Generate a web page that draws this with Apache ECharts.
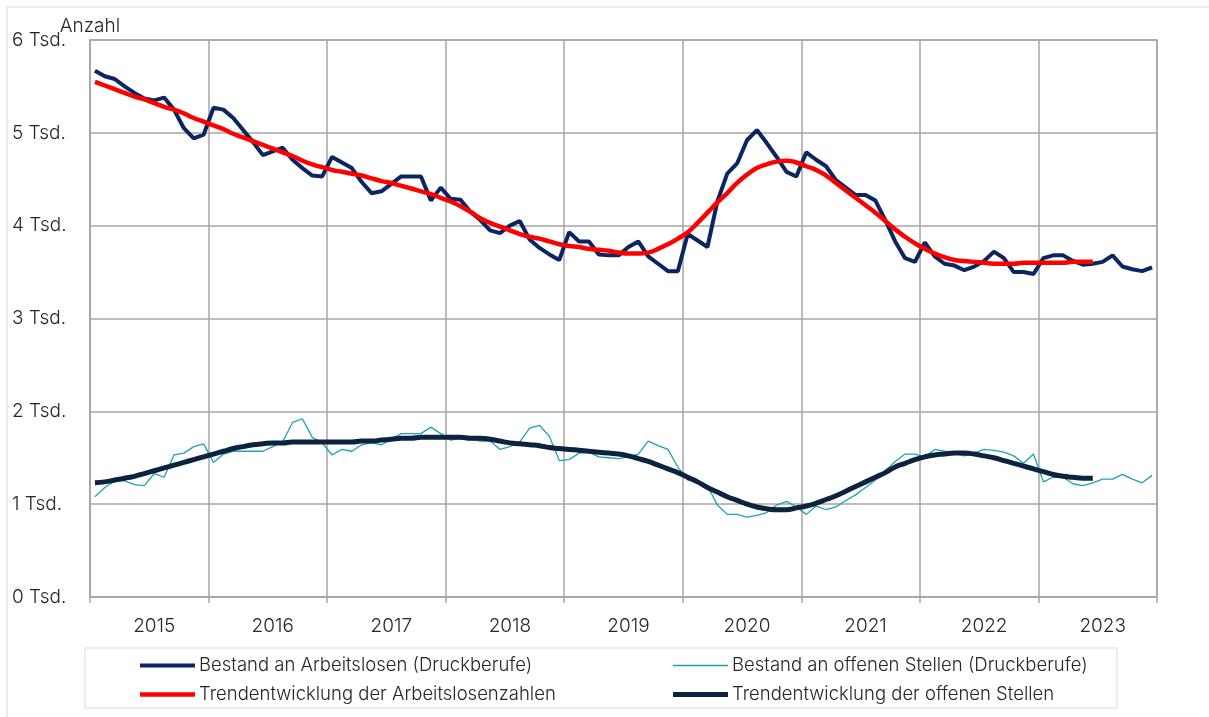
<!DOCTYPE html>
<html>
<head>
<meta charset="utf-8">
<script src="https://cdn.jsdelivr.net/npm/echarts@6/dist/echarts.min.js"></script>
<style>
  html, body { margin: 0; padding: 0; background: #fff; }
  #chart { width: 1209px; height: 717px; }
</style>
</head>
<body>
<div id="chart"></div>
<script>
// years shown on the x axis, one category per month
const years = ['2015', '2016', '2017', '2018', '2019', '2020', '2021', '2022', '2023']
const months = []
years.forEach(y => {
  for (let m = 1; m <= 12; m++) months.push(y + '-' + String(m).padStart(2, '0'))
})

const yTicks = ['0 Tsd.', '1 Tsd.', '2 Tsd.', '3 Tsd.', '4 Tsd.', '5 Tsd.', '6 Tsd.']

// Bestand an Arbeitslosen (Druckberufe), in Tsd.
const arbeitslose = [
  5.67, 5.61, 5.58, 5.50, 5.43, 5.37, 5.35, 5.38, 5.25, 5.05, 4.94, 4.98,
  5.27, 5.25, 5.16, 5.03, 4.90, 4.76, 4.80, 4.84, 4.71, 4.62, 4.54, 4.53,
  4.74, 4.68, 4.62, 4.47, 4.35, 4.37, 4.45, 4.53, 4.53, 4.53, 4.27, 4.41,
  4.29, 4.28, 4.15, 4.06, 3.95, 3.92, 4.00, 4.05, 3.85, 3.76, 3.69, 3.63,
  3.93, 3.83, 3.83, 3.69, 3.68, 3.68, 3.77, 3.83, 3.67, 3.59, 3.51, 3.51,
  3.91, 3.84, 3.77, 4.26, 4.56, 4.67, 4.92, 5.03, 4.89, 4.74, 4.58, 4.53,
  4.79, 4.71, 4.64, 4.49, 4.41, 4.33, 4.33, 4.27, 4.06, 3.83, 3.65, 3.61,
  3.82, 3.67, 3.59, 3.57, 3.52, 3.56, 3.62, 3.72, 3.65, 3.50, 3.50, 3.48,
  3.65, 3.68, 3.68, 3.62, 3.58, 3.59, 3.61, 3.68, 3.56, 3.53, 3.51, 3.55
]

// Bestand an offenen Stellen (Druckberufe), in Tsd.
const offeneStellen = [
  1.08, 1.18, 1.25, 1.25, 1.21, 1.20, 1.33, 1.29, 1.53, 1.55, 1.62, 1.65,
  1.45, 1.54, 1.57, 1.57, 1.57, 1.57, 1.62, 1.67, 1.88, 1.92, 1.72, 1.66,
  1.53, 1.59, 1.57, 1.64, 1.66, 1.64, 1.70, 1.76, 1.76, 1.76, 1.83, 1.76,
  1.69, 1.71, 1.70, 1.68, 1.68, 1.59, 1.62, 1.67, 1.82, 1.85, 1.73, 1.47,
  1.48, 1.55, 1.56, 1.51, 1.50, 1.49, 1.51, 1.54, 1.68, 1.63, 1.59, 1.40,
  1.26, 1.25, 1.20, 0.99, 0.89, 0.89, 0.86, 0.88, 0.91, 0.99, 1.03, 0.97,
  0.89, 0.98, 0.94, 0.97, 1.04, 1.10, 1.18, 1.26, 1.36, 1.46, 1.54, 1.54,
  1.51, 1.59, 1.57, 1.55, 1.52, 1.55, 1.59, 1.58, 1.56, 1.52, 1.44, 1.54,
  1.24, 1.29, 1.29, 1.22, 1.20, 1.23, 1.27, 1.27, 1.32, 1.27, 1.23, 1.31
]

// Trendentwicklung der Arbeitslosenzahlen, in Tsd.
const trendArbeitslose = [
  5.55, 5.51, 5.47, 5.43, 5.39, 5.36, 5.32, 5.28, 5.25, 5.21, 5.16, 5.12,
  5.08, 5.04, 4.99, 4.95, 4.91, 4.87, 4.83, 4.79, 4.75, 4.70, 4.66, 4.63,
  4.60, 4.58, 4.56, 4.54, 4.51, 4.48, 4.46, 4.43, 4.40, 4.37, 4.34, 4.30,
  4.26, 4.21, 4.15, 4.08, 4.03, 3.99, 3.95, 3.91, 3.88, 3.86, 3.83, 3.80,
  3.78, 3.77, 3.75, 3.74, 3.73, 3.71, 3.70, 3.70, 3.71, 3.75, 3.80, 3.86,
  3.93, 4.03, 4.14, 4.25, 4.35, 4.46, 4.55, 4.62, 4.66, 4.69, 4.70, 4.68,
  4.64, 4.60, 4.54, 4.46, 4.38, 4.30, 4.22, 4.14, 4.05, 3.96, 3.88, 3.81,
  3.75, 3.70, 3.66, 3.63, 3.62, 3.61, 3.60, 3.59, 3.59, 3.59, 3.60, 3.60,
  3.60, 3.60, 3.60, 3.61, 3.61, 3.61
]

// Trendentwicklung der offenen Stellen, in Tsd.
const trendStellen = [
  1.23, 1.24, 1.26, 1.28, 1.30, 1.33, 1.36, 1.39, 1.42, 1.45, 1.48, 1.51,
  1.54, 1.57, 1.60, 1.62, 1.64, 1.65, 1.66, 1.66, 1.67, 1.67, 1.67, 1.67,
  1.67, 1.67, 1.67, 1.68, 1.68, 1.69, 1.70, 1.71, 1.71, 1.72, 1.72, 1.72,
  1.72, 1.72, 1.71, 1.71, 1.70, 1.68, 1.66, 1.65, 1.64, 1.63, 1.61, 1.60,
  1.59, 1.58, 1.57, 1.56, 1.55, 1.54, 1.52, 1.49, 1.46, 1.42, 1.38, 1.34,
  1.29, 1.24, 1.18, 1.13, 1.08, 1.04, 1.00, 0.97, 0.95, 0.94, 0.94, 0.96,
  0.98, 1.01, 1.05, 1.09, 1.14, 1.19, 1.24, 1.29, 1.34, 1.40, 1.44, 1.48,
  1.51, 1.53, 1.54, 1.55, 1.55, 1.54, 1.52, 1.50, 1.47, 1.44, 1.41, 1.38,
  1.35, 1.32, 1.30, 1.29, 1.28, 1.28
]

const FONT = 'Inter'
const TEXT = '#262626'
const GRID = '#a6a6a6'

const C_AL = '#0b2561'
const C_OS = '#1fa2b0'
const C_TAL = '#ff0000'
const C_TOS = '#0c2340'

// one legend per entry so every icon can have its own line thickness
function legendItem(name, color, h, left, top) {
  return {
    left: left,
    top: top,
    padding: 0,
    icon: 'rect',
    itemWidth: 55,
    itemHeight: h,
    textStyle: { fontFamily: FONT, fontSize: 18.5, fontWeight: 300, color: TEXT, padding: [0, 0, 0, -1] },
    data: [{ name: name, itemStyle: { color: color } }]
  }
}

const chart = echarts.init(document.getElementById('chart'), null, { renderer: 'canvas' })

chart.setOption({
  animation: false,
  textStyle: { fontFamily: FONT },
  graphic: [
    {
      type: 'rect',
      shape: { x: 7, y: 7, width: 1220, height: 730 },
      style: { fill: 'none', stroke: '#d9d9d9', lineWidth: 1 },
      silent: true
    },
    {
      type: 'rect',
      shape: { x: 85, y: 648, width: 1032, height: 60 },
      style: { fill: 'none', stroke: '#d9d9d9', lineWidth: 1 },
      silent: true
    }
  ],
  grid: {
    left: 90,
    right: 52,
    top: 40,
    bottom: 120,
    show: true,
    borderColor: GRID,
    borderWidth: 1.5
  },
  legend: [
    legendItem('Bestand an Arbeitslosen (Druckberufe)', C_AL, 4, 140, 656),
    legendItem('Trendentwicklung der Arbeitslosenzahlen', C_TAL, 4.5, 140, 685),
    legendItem('Bestand an offenen Stellen (Druckberufe)', C_OS, 1.3, 673, 656),
    legendItem('Trendentwicklung der offenen Stellen', C_TOS, 5, 673, 685)
  ],
  xAxis: {
    type: 'category',
    data: months,
    boundaryGap: true,
    axisLine: { lineStyle: { color: GRID, width: 1.5 } },
    axisTick: { show: true, interval: 11, length: 6, lineStyle: { color: GRID, width: 1.5 } },
    splitLine: { show: true, interval: 11, lineStyle: { color: GRID, width: 1.5 } },
    axisLabel: {
      interval: (idx) => idx % 12 === 6,
      formatter: (v) => v.slice(0, 4),
      fontFamily: FONT,
      fontSize: 19,
      fontWeight: 300,
      color: TEXT,
      margin: 20
    }
  },
  yAxis: {
    type: 'value',
    min: 0,
    max: 6,
    interval: 1,
    name: 'Anzahl',
    nameLocation: 'end',
    nameGap: 4,
    nameMoveOverlap: false,
    nameTextStyle: { fontFamily: FONT, fontSize: 19, fontWeight: 300, color: TEXT },
    axisLine: { show: true, lineStyle: { color: GRID, width: 1.5 } },
    axisTick: { show: false },
    splitLine: { lineStyle: { color: GRID, width: 1.5 } },
    axisLabel: {
      formatter: (v) => yTicks[v],
      align: 'left',
      margin: 78,
      fontFamily: FONT,
      fontSize: 19,
      fontWeight: 300,
      color: TEXT
    }
  },
  series: [
    {
      name: 'Bestand an Arbeitslosen (Druckberufe)',
      type: 'line',
      data: arbeitslose,
      showSymbol: false,
      symbol: 'none',
      lineStyle: { color: C_AL, width: 4 },
      itemStyle: { color: C_AL },
      z: 2
    },
    {
      name: 'Bestand an offenen Stellen (Druckberufe)',
      type: 'line',
      data: offeneStellen,
      showSymbol: false,
      symbol: 'none',
      lineStyle: { color: C_OS, width: 1.3 },
      itemStyle: { color: C_OS },
      z: 2
    },
    {
      name: 'Trendentwicklung der Arbeitslosenzahlen',
      type: 'line',
      data: trendArbeitslose,
      smooth: true,
      showSymbol: false,
      symbol: 'none',
      lineStyle: { color: C_TAL, width: 4.5 },
      itemStyle: { color: C_TAL },
      z: 3
    },
    {
      name: 'Trendentwicklung der offenen Stellen',
      type: 'line',
      data: trendStellen,
      smooth: true,
      showSymbol: false,
      symbol: 'none',
      lineStyle: { color: C_TOS, width: 5 },
      itemStyle: { color: C_TOS },
      z: 3
    }
  ]
})
</script>
</body>
</html>
